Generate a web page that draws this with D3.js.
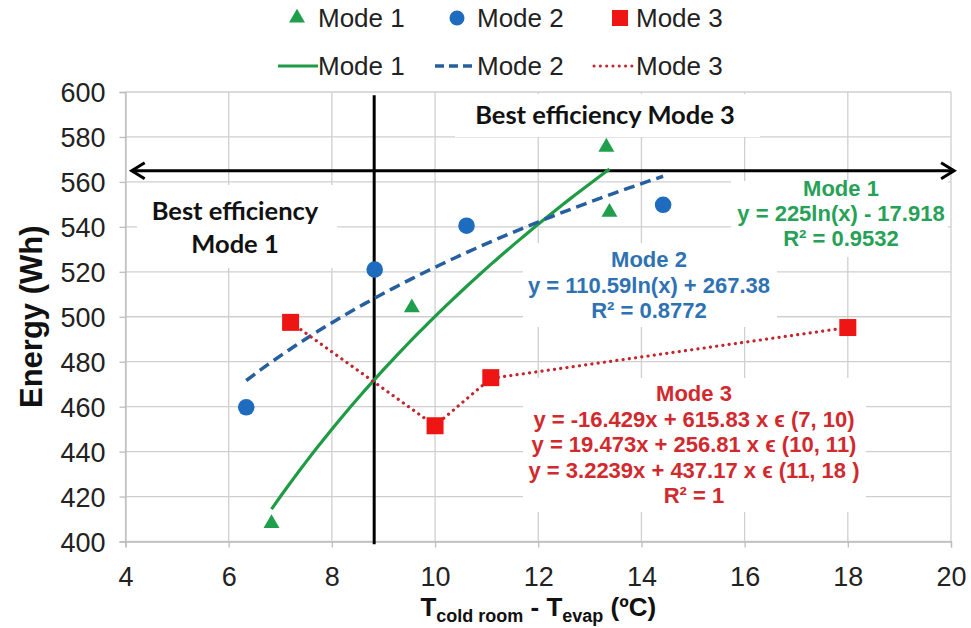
<!DOCTYPE html>
<html>
<head>
<meta charset="utf-8">
<script src="https://cdn.jsdelivr.net/npm/d3@7"></script>
<style>
  html, body { margin: 0; padding: 0; background: #fff; }
  svg { display: block; }
  text { font-family: "Liberation Sans", Arial, sans-serif; }
</style>
</head>
<body>
<svg id="chart" width="971" height="628"></svg>
<script>
// ---- data ----
const mode1X = [6.83, 9.55, 13.32, 13.38];
const mode1Y = [408, 504, 575.5, 546.5];
const mode2X = [6.34, 8.83, 10.61, 14.42];
const mode2Y = [459.7, 521, 540.5, 549.8];
const mode3X = [7.2, 10, 11.08, 18];
const mode3Y = [497.5, 451.5, 472.9, 495.2];

// trendline coefficients (y = a*ln(x) + b) and piecewise linear fits (y = m*x + c)
const fit1 = [225, -17.918];
const fit2 = [110.59, 267.38];
const fit3Slopes = [-16.429, 19.473, 3.2239];
const fit3Intercepts = [615.83, 256.81, 437.17];

const xTicks = [4, 6, 8, 10, 12, 14, 16, 18, 20];
const yTicks = [400, 420, 440, 460, 480, 500, 520, 540, 560, 580, 600];

// boundary markers separating efficiency regions
const boundaryX = 8.82;
const boundaryY = 565;

const legendLabels = ["Mode 1", "Mode 2", "Mode 3"];

const mode1Label = ["Mode 1", "y = 225ln(x) - 17.918", "R² = 0.9532"];
const mode2Label = ["Mode 2", "y = 110.59ln(x) + 267.38", "R² = 0.8772"];
const mode3Label = ["Mode 3",
  "y = -16.429x + 615.83 x ϵ (7, 10)",
  "y = 19.473x + 256.81 x ϵ (10, 11)",
  "y = 3.2239x + 437.17 x ϵ (11, 18 )",
  "R² = 1"];

// ---- colours ----
const C = {
  g: "#1f9e4c", gLine: "#1f9b45", gText: "#27a157",
  b: "#1f6cbf", bLine: "#255f9f", bText: "#2f72b3",
  r: "#ee1515", rLine: "#c4262f", rText: "#d12a2e",
  grid: "#cfcfcf"
};

const svg = d3.select("#chart");
const x = d3.scaleLinear().domain([4, 20]).range([125.5, 951]);
const y = d3.scaleLinear().domain([400, 600]).range([541.5, 92]);

// grid
const grid = svg.append("g");
grid.selectAll(".gy").data(yTicks).join("line")
  .attr("x1", x(4)).attr("x2", x(20))
  .attr("y1", d => y(d)).attr("y2", d => y(d))
  .attr("stroke", C.grid).attr("stroke-width", 1.3);
grid.selectAll(".gx").data(xTicks).join("line")
  .attr("x1", d => x(d)).attr("x2", d => x(d))
  .attr("y1", y(400)).attr("y2", y(600))
  .attr("stroke", C.grid).attr("stroke-width", 1.3);

// axes
const xAxis = svg.append("g").attr("transform", `translate(0,${y(400)})`)
  .call(d3.axisBottom(x).tickValues(xTicks).tickSize(6).tickPadding(19));
const yAxis = svg.append("g").attr("transform", `translate(${x(4)},0)`)
  .call(d3.axisLeft(y).tickValues(yTicks).tickSize(6).tickPadding(14));
[xAxis, yAxis].forEach(a => {
  a.select(".domain").attr("stroke", "#bdbdbd").attr("stroke-width", 1.3);
  a.selectAll(".tick line").attr("stroke", "#bdbdbd").attr("stroke-width", 1.3);
  a.selectAll(".tick text").attr("fill", "#222")
    .style("font-size", "27px").style("font-family", "'Liberation Sans', Arial, sans-serif");
});
yAxis.selectAll(".tick text").attr("dy", "0.36em");

// white label backgrounds that hide the grid
const boxes = [
  [137, 185, 200, 83],
  [455, 94, 305, 43],
  [731, 181, 217, 76],
  [523, 243, 254, 84],
  [523, 378, 343, 134]
];
svg.append("g").selectAll("rect").data(boxes).join("rect")
  .attr("x", d => d[0]).attr("y", d => d[1]).attr("width", d => d[2]).attr("height", d => d[3])
  .attr("fill", "#fff");

// boundary lines
svg.append("line")
  .attr("x1", x(boundaryX)).attr("x2", x(boundaryX))
  .attr("y1", y(598.5)).attr("y2", y(398.8))
  .attr("stroke", "#000").attr("stroke-width", 3);
const ay = y(boundaryY);
const ax0 = x(4.12), ax1 = x(20.06);
svg.append("line").attr("x1", ax0 + 1).attr("x2", ax1 - 1).attr("y1", ay).attr("y2", ay)
  .attr("stroke", "#000").attr("stroke-width", 3);
svg.append("path")
  .attr("d", `M${ax0 + 13},${ay - 8}L${ax0},${ay}L${ax0 + 13},${ay + 8}M${ax1 - 13},${ay - 8}L${ax1},${ay}L${ax1 - 13},${ay + 8}`)
  .attr("fill", "none").attr("stroke", "#000").attr("stroke-width", 3)
  .attr("stroke-linejoin", "miter");

// trendlines
const line = d3.line().x(d => x(d[0])).y(d => y(d[1]));
function logCurve(coef, x0, x1) {
  return d3.range(0, 61).map(i => {
    const xv = x0 + (x1 - x0) * i / 60;
    return [xv, coef[0] * Math.log(xv) + coef[1]];
  });
}
svg.append("path").datum(logCurve(fit1, d3.min(mode1X), d3.max(mode1X)))
  .attr("d", line).attr("fill", "none").attr("stroke", C.gLine).attr("stroke-width", 3.2);
svg.append("path").datum(logCurve(fit2, d3.min(mode2X), d3.max(mode2X)))
  .attr("d", line).attr("fill", "none").attr("stroke", C.bLine).attr("stroke-width", 3.5)
  .attr("stroke-dasharray", "11,6");
const seg3 = [];
fit3Slopes.forEach((m, i) => {
  const a = mode3X[i], b = mode3X[i + 1];
  if (i === 0) seg3.push([a, m * a + fit3Intercepts[i]]);
  seg3.push([b, m * b + fit3Intercepts[i]]);
});
svg.append("path").datum(seg3)
  .attr("d", line).attr("fill", "none").attr("stroke", C.rLine).attr("stroke-width", 3.2)
  .attr("stroke-dasharray", "0.1,6.2").attr("stroke-linecap", "round");

// markers
const tri = d3.symbol().type(d3.symbolTriangle).size(110);
svg.append("g").selectAll("path").data(mode1X.map((v, i) => [v, mode1Y[i]])).join("path")
  .attr("d", tri).attr("transform", d => `translate(${x(d[0])},${y(d[1])})`).attr("fill", C.g);
svg.append("g").selectAll("circle").data(mode2X.map((v, i) => [v, mode2Y[i]])).join("circle")
  .attr("cx", d => x(d[0])).attr("cy", d => y(d[1])).attr("r", 8.3).attr("fill", C.b);
svg.append("g").selectAll("rect").data(mode3X.map((v, i) => [v, mode3Y[i]])).join("rect")
  .attr("x", d => x(d[0]) - 8.5).attr("y", d => y(d[1]) - 8.5)
  .attr("width", 17).attr("height", 17).attr("fill", C.r);

// region annotations
const bold = "Lato, 'Open Sans', sans-serif";
function note(txt, cx, base) {
  svg.append("text").attr("x", cx).attr("y", base).attr("text-anchor", "middle")
    .style("font-family", bold).style("font-weight", 700).style("font-size", "25.5px").attr("fill", "#111")
    .text(txt);
}
note("Best efficiency Mode 3", 605, 124);
note("Best efficiency", 235, 220);
note("Mode 1", 235, 253);

// fit equations
function eqLabel(lines, cx, baseline, step, color) {
  svg.append("g").selectAll("text").data(lines).join("text")
    .attr("x", cx).attr("y", (d, i) => baseline + i * step)
    .attr("text-anchor", "middle").attr("fill", color)
    .style("font-weight", 700).style("font-size", "22px")
    .text(d => d);
}
eqLabel(mode1Label, 841, 196, 25, C.gText);
eqLabel(mode2Label, 649, 267, 25.5, C.bText);
eqLabel(mode3Label, 694, 401, 25.5, C.rText);

// axis titles
svg.append("text").attr("transform", `translate(42,${y(500)}) rotate(-90)`)
  .attr("text-anchor", "middle").style("font-weight", 700).style("font-size", "31px").attr("fill", "#111")
  .text("Energy (Wh)");
const xt = svg.append("text").attr("x", x(12)).attr("y", 616).attr("text-anchor", "middle")
  .style("font-weight", 700).style("font-size", "26px").attr("fill", "#111");
xt.append("tspan").text("T");
xt.append("tspan").attr("dy", 6).style("font-size", "18px").text("cold room");
xt.append("tspan").attr("dy", -6).text(" - T");
xt.append("tspan").attr("dy", 6).style("font-size", "18px").text("evap");
xt.append("tspan").attr("dy", -6).text(" (ºC)");

// legend
const lg = svg.append("g").style("font-size", "26px");
const row1 = 27, row2 = 75;
const textX = [318, 477, 636];
lg.selectAll(".t1").data(legendLabels).join("text")
  .attr("x", (d, i) => textX[i]).attr("y", row1).attr("fill", "#222").text(d => d);
lg.selectAll(".t2").data(legendLabels).join("text")
  .attr("x", (d, i) => textX[i]).attr("y", row2).attr("fill", "#222").text(d => d);
lg.append("path").attr("d", tri).attr("transform", `translate(297,${row1 - 9})`).attr("fill", C.g);
lg.append("circle").attr("cx", 457).attr("cy", row1 - 9).attr("r", 7.5).attr("fill", C.b);
lg.append("rect").attr("x", 612).attr("y", row1 - 17).attr("width", 16).attr("height", 16).attr("fill", C.r);
const ly = row2 - 9;
lg.append("line").attr("x1", 278).attr("x2", 318).attr("y1", ly).attr("y2", ly)
  .attr("stroke", C.gLine).attr("stroke-width", 3.2);
lg.append("line").attr("x1", 435).attr("x2", 476).attr("y1", ly).attr("y2", ly)
  .attr("stroke", C.bLine).attr("stroke-width", 3.5).attr("stroke-dasharray", "9,5");
lg.append("line").attr("x1", 594).attr("x2", 634).attr("y1", ly).attr("y2", ly)
  .attr("stroke", C.rLine).attr("stroke-width", 3).attr("stroke-dasharray", "0.1,6.2")
  .attr("stroke-linecap", "round");
</script>
</body>
</html>
